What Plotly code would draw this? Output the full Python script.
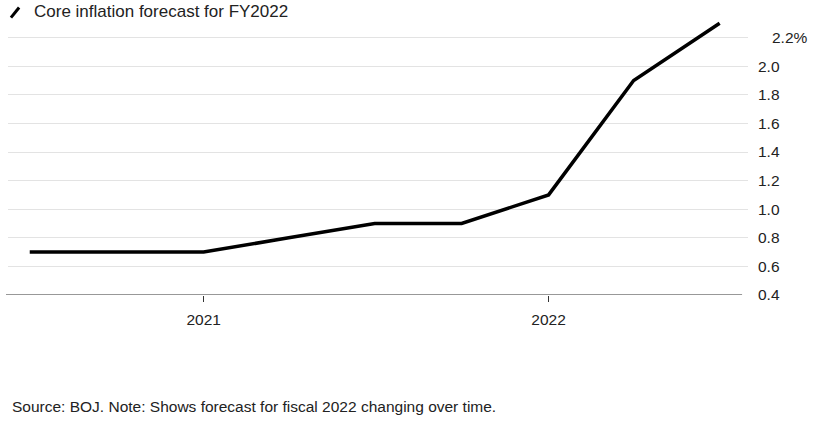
import plotly.graph_objects as go

dates = ["2020-07-01", "2020-10-01", "2021-01-01", "2021-04-01", "2021-07-01",
         "2021-10-01", "2022-01-01", "2022-04-01", "2022-07-01"]
forecast = [0.7, 0.7, 0.7, 0.8, 0.9, 0.9, 1.1, 1.9, 2.3]

x_tick_vals = ["2021-01-01", "2022-01-01"]
x_tick_text = ["2021", "2022"]
y_tick_vals = [0.4, 0.6, 0.8, 1.0, 1.2, 1.4, 1.6, 1.8, 2.0, 2.2]
y_tick_text = ["0.4", "0.6", "0.8", "1.0", "1.2", "1.4", "1.6", "1.8", "2.0", ""]

FONT = "Liberation Sans, Arial, sans-serif"

fig = go.Figure()
fig.add_trace(go.Scatter(x=dates, y=forecast, mode="lines",
                         line=dict(color="#000000", width=3.5),
                         showlegend=False, hoverinfo="skip"))

fig.update_layout(
    width=818, height=424,
    margin=dict(l=8, r=70, t=9.4, b=129),
    plot_bgcolor="white", paper_bgcolor="white",
    font=dict(family=FONT, color="#222222"),
    xaxis=dict(
        type="date",
        range=["2020-06-08", "2022-07-31"],
        tickvals=x_tick_vals, ticktext=x_tick_text,
        showgrid=False, zeroline=False, showline=False,
        ticks="outside", ticklen=6, tickcolor="#333333", tickwidth=1,
        tickfont=dict(size=15.5, color="#222222"),
        ticklabelstandoff=4,
    ),
    yaxis=dict(
        side="right",
        range=[0.4, 2.4],
        tickvals=y_tick_vals, ticktext=y_tick_text,
        showgrid=True, gridcolor="#e3e3e3", gridwidth=1,
        zeroline=False, showline=False,
        ticks="", tickfont=dict(size=15.5, color="#222222"),
        ticklabelstandoff=9,
    ),
)

# baseline
fig.add_shape(type="line", xref="paper", yref="y", x0=-0.0027, x1=0.992, y0=0.4, y1=0.4,
              line=dict(color="#333333", width=1.2))

# top label with %
fig.add_annotation(xref="paper", yref="y", x=1.0, y=2.2, xanchor="left", yanchor="middle",
                   xshift=22, text="2.2%", showarrow=False,
                   font=dict(size=15.5, color="#222222", family=FONT))

# legend icon and text
fig.add_shape(type="line", xref="paper", yref="paper", x0=0.004, x1=0.015, y0=0.970, y1=1.005,
              line=dict(color="#000000", width=3))
fig.add_annotation(xref="paper", yref="paper", x=0.0324, y=0.991, xanchor="left", yanchor="middle",
                   text="Core inflation forecast for FY2022", showarrow=False,
                   font=dict(size=17, color="#222222", family=FONT))

# source
fig.add_annotation(xref="paper", yref="paper", x=0.0027, y=-0.389, xanchor="left", yanchor="middle",
                   text="Source: BOJ. Note: Shows forecast for fiscal 2022 changing over time.",
                   showarrow=False, font=dict(size=15.5, color="#222222", family=FONT))

fig.write_html("out.html",
               config={"displayModeBar": False, "staticPlot": True},
               post_script="document.body.style.margin='0';document.body.style.overflow='hidden';")
